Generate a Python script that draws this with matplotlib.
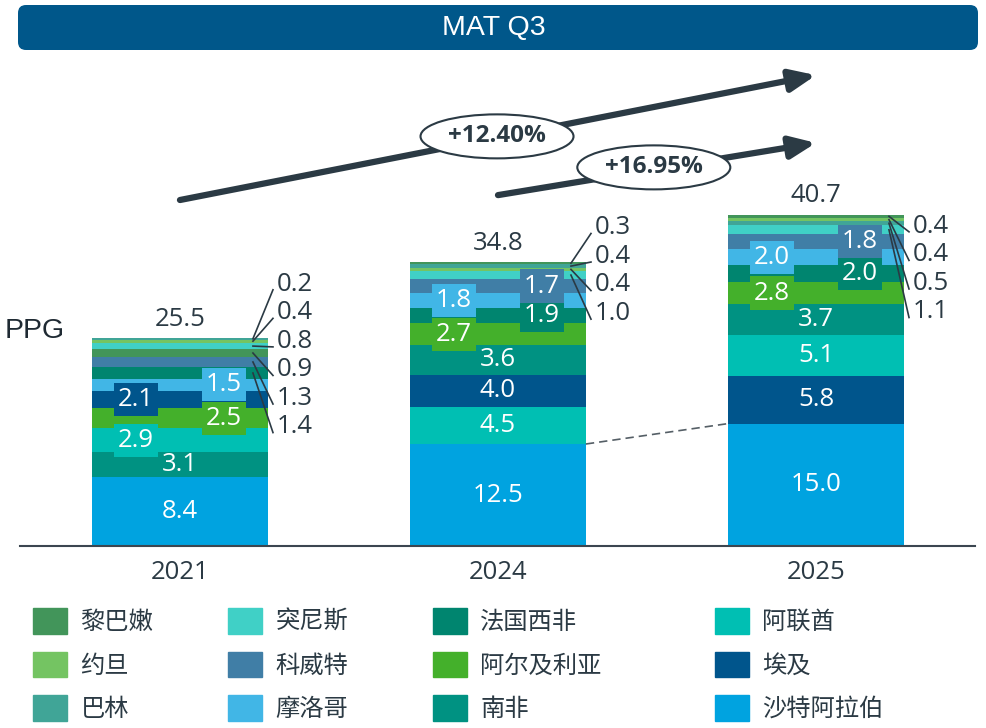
#!/usr/bin/env python3
"""MAT Q3 PPG stacked bars by market, 2021 / 2024 / 2025."""

import matplotlib
matplotlib.use("Agg")
import matplotlib.pyplot as plt
from matplotlib.patches import Ellipse, FancyBboxPatch, Patch

plt.rcParams["font.family"] = ["Open Sans", "Noto Sans CJK SC", "DejaVu Sans"]

# ---- data -------------------------------------------------------------
years = ["2021", "2024", "2025"]
totals = [25.5, 34.8, 40.7]
growth_labels = ["+12.40%", "+16.95%"]

# values per market, one per year
saudi = [8.4, 12.5, 15.0]
egypt = [2.1, 4.0, 5.8]
uae = [2.9, 4.5, 5.1]
south_africa = [3.1, 3.6, 3.7]
algeria = [2.5, 2.7, 2.8]
fr_west_africa = [1.4, 1.9, 2.0]
morocco = [1.5, 1.8, 2.0]
kuwait = [1.3, 1.7, 1.8]
tunisia = [0.8, 1.0, 1.1]
jordan = [0.4, 0.4, 0.4]
bahrain = [0.2, 0.4, 0.5]
lebanon = [0.9, 0.3, 0.4]

markets = ["沙特阿拉伯", "埃及", "阿联酋", "南非", "阿尔及利亚", "法国西非",
           "摩洛哥", "科威特", "突尼斯", "约旦", "巴林", "黎巴嫩"]
series = [saudi, egypt, uae, south_africa, algeria, fr_west_africa,
          morocco, kuwait, tunisia, jordan, bahrain, lebanon]
legend_order = ["黎巴嫩", "约旦", "巴林", "突尼斯", "科威特", "摩洛哥",
                "法国西非", "阿尔及利亚", "南非", "阿联酋", "埃及", "沙特阿拉伯"]

colors = {
    "沙特阿拉伯": "#00a3e0", "埃及": "#00558c", "阿联酋": "#00bfb3",
    "南非": "#009282", "阿尔及利亚": "#44b02b", "法国西非": "#00856f",
    "摩洛哥": "#41b6e6", "科威特": "#407ea6", "突尼斯": "#40d0c6",
    "巴林": "#40a597", "约旦": "#74c462", "黎巴嫩": "#42955a",
}

TXT = "#2b3a44"
W, H = 987, 728

fig = plt.figure(figsize=(W / 100, H / 100), dpi=100)
ax = fig.add_axes([20 / W, (H - 546) / H, 955 / W, 486 / H])
px_per_unit = 8.16
ax.set_ylim(0, 486 / px_per_unit)
ax.set_xlim(-0.503, 2.5)
bar_w = 0.553
NUM = 18.5

# ---- stacked bars -----------------------------------------------------
for i, year in enumerate(years):
    order = sorted(range(len(markets)), key=lambda k: -series[k][i])
    bottom = 0.0
    side = -1
    callouts = []
    for k in order:
        v = series[k][i]
        c = colors[markets[k]]
        ax.bar(i, v, bottom=bottom, width=bar_w, color=c, linewidth=0, zorder=2)
        mid = bottom + v / 2
        if v >= 3.0:
            ax.text(i, mid, f"{v:.1f}", ha="center", va="center",
                    color="white", fontsize=NUM, zorder=4)
        elif v >= 1.5:
            ax.text(i + side * 0.138, mid, f"{v:.1f}", ha="center", va="center",
                    color="white", fontsize=NUM, zorder=4,
                    bbox=dict(boxstyle="square,pad=0.16", fc=c, ec="none"))
            side = -side
        else:
            callouts.append((v, mid))
        bottom += v
    # callouts to the right of the bar, top segment first
    callout_top = [32.1, 39.0, 39.2][i]
    right = i + bar_w / 2
    for j, (v, mid) in enumerate(reversed(callouts)):
        ty = callout_top - j * 3.5
        ax.plot([right - 0.047, right + 0.016], [mid, ty - 0.7],
                color=TXT, lw=1.2, zorder=3, clip_on=False)
        ax.text(right + 0.028, ty, f"{v:.1f}", ha="left", va="center",
                color=TXT, fontsize=NUM, clip_on=False)
    ax.annotate(f"{totals[i]:.1f}", (i, totals[i]), xytext=(0, 4),
                textcoords="offset points", ha="center", va="bottom",
                color=TXT, fontsize=NUM)

# dashed link between Saudi segments of 2024 and 2025
ax.plot([1 + bar_w / 2, 2 - bar_w / 2], [saudi[1], saudi[2]],
        color="#555f66", lw=1.2, ls=(0, (5, 3)), zorder=3)

# ---- growth arrows ----------------------------------------------------
arrows = [((0.0, 42.4), (2.0, 57.7), (0.997, 50.2)),
          ((1.0, 43.0), (2.0, 49.4), (1.490, 46.4))]
for (start, end, centre), lab in zip(arrows, growth_labels):
    ax.annotate("", xy=end, xytext=start,
                arrowprops=dict(arrowstyle="-|>,head_length=0.7,head_width=0.3",
                                lw=4.5, color=TXT, mutation_scale=22,
                                shrinkA=0, shrinkB=0), zorder=5)
    ax.add_patch(Ellipse(centre, 153 / 318, 44 / px_per_unit, fc="white",
                         ec=TXT, lw=1.5, zorder=6))
    ax.text(centre[0], centre[1], lab, ha="center", va="center", color=TXT,
            fontsize=17.5, fontweight="bold", zorder=7)

# ---- axes styling -----------------------------------------------------
for s in ["top", "left", "right"]:
    ax.spines[s].set_visible(False)
ax.spines["bottom"].set_color("#3c4650")
ax.spines["bottom"].set_linewidth(1.5)
ax.set_yticks([])
ax.set_xticks(range(len(years)), years, fontsize=NUM, color=TXT)
ax.tick_params(axis="x", length=0, pad=10)

fig.text(5 / W, (H - 331) / H, "PPG", ha="left", va="center",
         fontsize=20.5, color="#1f2a33", family=["Liberation Sans", "DejaVu Sans"])

# ---- title banner -----------------------------------------------------
fig.patches.append(FancyBboxPatch((0.18, (H - 50) / 100), 9.60, 0.45,
                                  boxstyle="round,pad=0,rounding_size=0.08",
                                  fc="#00578a", ec="none",
                                  transform=fig.dpi_scale_trans, figure=fig))
fig.text(494 / W, (H - 28) / H, "MAT Q3", ha="center", va="center",
         color="white", fontsize=20.5, family=["Liberation Sans", "DejaVu Sans"])

# ---- legend: four columns ---------------------------------------------
col_x = [33, 228, 433, 715]
for c in range(4):
    names = legend_order[c * 3:(c + 1) * 3]
    handles = [Patch(color=colors[n]) for n in names]
    fig.legend(handles, names, loc="upper left",
               bbox_to_anchor=(col_x[c] / W, (H - 608) / H),
               frameon=False, borderpad=0, borderaxespad=0,
               handlelength=1.4, handleheight=1.25, handletextpad=0.55,
               labelspacing=0.68, fontsize=17.5, labelcolor=TXT)

fig.savefig("out.png", dpi=100)
plt.close(fig)
